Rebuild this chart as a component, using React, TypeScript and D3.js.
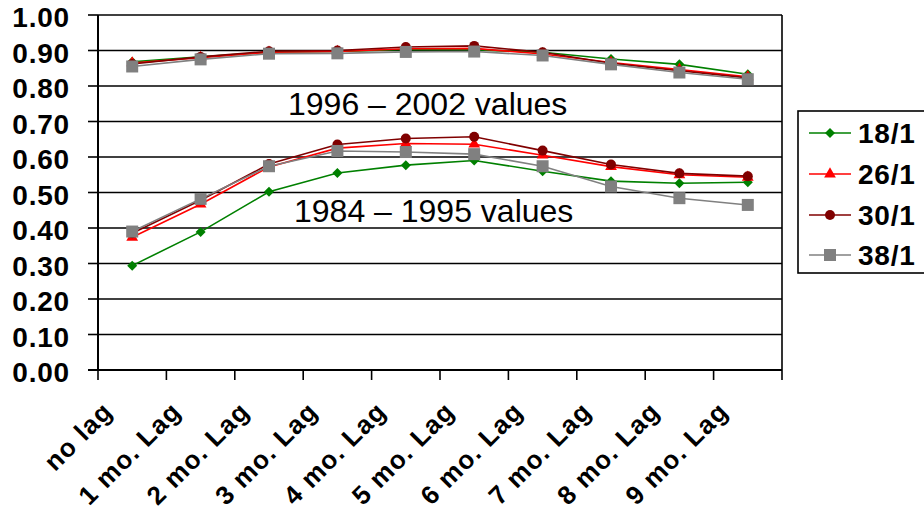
import React from "react";
import * as d3 from "d3";

// Lag categories along the x axis
const categories = [
  "no lag",
  "1 mo. Lag",
  "2 mo. Lag",
  "3 mo. Lag",
  "4 mo. Lag",
  "5 mo. Lag",
  "6 mo. Lag",
  "7 mo. Lag",
  "8 mo. Lag",
  "9 mo. Lag",
];

// Series names (legend order)
const seriesNames = ["18/1", "26/1", "30/1", "38/1"];

// 1996 – 2002 values
const late18 = [0.868, 0.882, 0.895, 0.897, 0.903, 0.902, 0.895, 0.876, 0.861, 0.833];
const late26 = [0.865, 0.88, 0.895, 0.897, 0.905, 0.906, 0.89, 0.866, 0.846, 0.826];
const late30 = [0.862, 0.882, 0.898, 0.9, 0.91, 0.913, 0.895, 0.864, 0.843, 0.823];
const late38 = [0.855, 0.875, 0.891, 0.892, 0.896, 0.897, 0.886, 0.861, 0.838, 0.819];

// 1984 – 1995 values
const early18 = [0.294, 0.389, 0.502, 0.555, 0.577, 0.59, 0.56, 0.532, 0.526, 0.529];
const early26 = [0.374, 0.467, 0.572, 0.625, 0.638, 0.636, 0.605, 0.573, 0.55, 0.543];
const early30 = [0.385, 0.478, 0.58, 0.635, 0.652, 0.657, 0.618, 0.579, 0.554, 0.546];
const early38 = [0.39, 0.482, 0.574, 0.617, 0.614, 0.608, 0.574, 0.517, 0.484, 0.465];

const yTicks = [0, 0.1, 0.2, 0.3, 0.4, 0.5, 0.6, 0.7, 0.8, 0.9, 1.0];

const lateSeries = [late18, late26, late30, late38];
const earlySeries = [early18, early26, early30, early38];

const colors = ["#008000", "#ff0000", "#800000", "#808080"];
const shapes = ["diamond", "triangle", "circle", "square"];

const W = 924;
const H = 516;
const plot = { left: 98, right: 782, top: 15, bottom: 370 };

const x = d3
  .scaleBand<string>()
  .domain(categories)
  .range([plot.left, plot.right])
  .paddingInner(0)
  .paddingOuter(0);
const y = d3.scaleLinear().domain([0, 1]).range([plot.bottom, plot.top]);

const cx = (c: string) => (x(c) as number) + x.bandwidth() / 2;

const line = d3
  .line<number>()
  .x((_, i) => cx(categories[i]))
  .y((d) => y(d));

function Marker({ shape, color, px, py }: { shape: string; color: string; px: number; py: number }) {
  if (shape === "diamond") {
    const s = 5;
    return (
      <path
        d={`M${px},${py - s}L${px + s},${py}L${px},${py + s}L${px - s},${py}Z`}
        fill={color}
      />
    );
  }
  if (shape === "triangle") {
    return (
      <path
        d={d3.symbol(d3.symbolTriangle, 60)() as string}
        transform={`translate(${px},${py})`}
        fill={color}
      />
    );
  }
  if (shape === "circle") {
    return <circle cx={px} cy={py} r={5} fill={color} />;
  }
  return <rect x={px - 6} y={py - 6} width={12} height={12} fill={color} />;
}

export default function App() {
  const legendY = [133, 174, 215, 255];
  return (
    <svg
      width={W}
      height={H}
      style={{ position: "absolute", left: 0, top: 0, background: "#fff" }}
      fontFamily="'Liberation Sans', Arial, sans-serif"
    >
      <rect width={W} height={H} fill="#fff" />

      {/* gridlines */}
      {yTicks.map((t) => (
        <line
          key={t}
          x1={plot.left}
          x2={plot.right}
          y1={y(t)}
          y2={y(t)}
          stroke="#000"
          strokeWidth={1.6}
        />
      ))}
      {/* plot frame */}
      <line x1={plot.right} x2={plot.right} y1={plot.top} y2={plot.bottom} stroke="#000" strokeWidth={1.6} />
      <line x1={plot.left} x2={plot.left} y1={plot.top} y2={plot.bottom} stroke="#000" strokeWidth={2} />
      <line x1={plot.left - 10} x2={plot.right} y1={plot.bottom} y2={plot.bottom} stroke="#000" strokeWidth={2} />

      {/* y ticks and labels */}
      {yTicks.map((t) => (
        <g key={"yt" + t}>
          <line x1={plot.left - 10} x2={plot.left} y1={y(t)} y2={y(t)} stroke="#000" strokeWidth={1.6} />
          <text
            x={70}
            y={y(t) + 12}
            textAnchor="end"
            fontSize={28}
            fontWeight="bold"
            letterSpacing={0.8}
          >
            {d3.format(".2f")(t)}
          </text>
        </g>
      ))}

      {/* x ticks */}
      {d3.range(categories.length + 1).map((i) => {
        const xx = plot.left + i * x.bandwidth();
        return <line key={"xt" + i} x1={xx} x2={xx} y1={plot.bottom} y2={plot.bottom + 10} stroke="#000" strokeWidth={1.6} />;
      })}

      {/* x labels */}
      {categories.map((c) => (
        <text
          key={c}
          transform={`translate(${cx(c) - 18},${413}) rotate(-45)`}
          textAnchor="end"
          fontSize={26}
          fontWeight="bold"
          letterSpacing={1.2}
        >
          {c}
        </text>
      ))}

      {/* series lines and markers */}
      {seriesNames.map((name, si) => (
        <g key={name}>
          {[earlySeries[si], lateSeries[si]].map((vals, k) => (
            <g key={k}>
              <path d={line(vals) as string} fill="none" stroke={colors[si]} strokeWidth={1.6} />
              {vals.map((v, i) => (
                <Marker key={i} shape={shapes[si]} color={colors[si]} px={cx(categories[i])} py={y(v)} />
              ))}
            </g>
          ))}
        </g>
      ))}

      {/* period annotations */}
      <text x={288} y={115} fontSize={32}>
        1996 – 2002 values
      </text>
      <text x={294} y={221.5} fontSize={32}>
        1984 – 1995 values
      </text>

      {/* legend */}
      <rect x={798} y={111} width={140} height={162} fill="#fff" stroke="#000" strokeWidth={1.6} />
      {seriesNames.map((name, si) => (
        <g key={"lg" + name}>
          <line x1={809} x2={851} y1={legendY[si]} y2={legendY[si]} stroke={colors[si]} strokeWidth={1.6} />
          <Marker shape={shapes[si]} color={colors[si]} px={830} py={legendY[si]} />
          <text x={858} y={legendY[si] + 10} fontSize={28} fontWeight="bold" letterSpacing={0.8}>
            {name}
          </text>
        </g>
      ))}
    </svg>
  );
}
